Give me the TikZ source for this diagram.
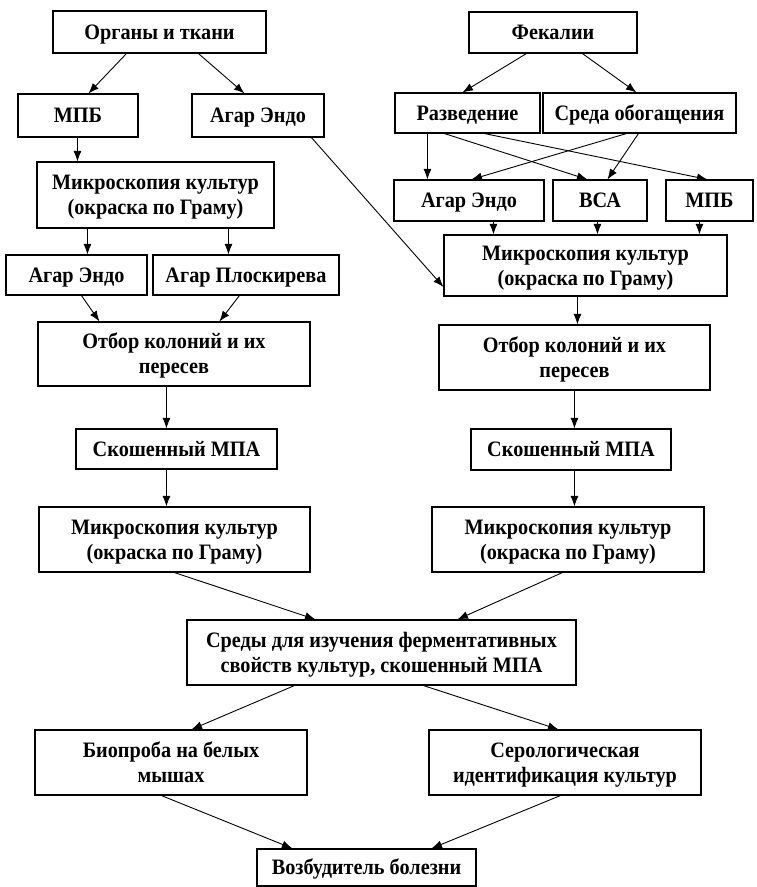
\documentclass[tikz,border=0pt]{standalone}
\usepackage{fontspec}
\setmainfont{Liberation Serif}[FakeStretch=0.92]
\usetikzlibrary{arrows.meta}
\begin{document}
\begin{tikzpicture}[x=1pt,y=-1pt,
  box/.style={draw,line width=1.1pt,align=center,inner sep=0pt,font=\fontsize{22}{25}\selectfont\bfseries},
  one/.style={text height=14.5pt,text depth=0pt},
  two/.style={text height=39.5pt,text depth=0pt},
  arr/.style={line width=0.9pt,-{Latex[length=10.5pt,width=8pt]}}]
\useasboundingbox (0,0) rectangle (756,887);
\node[box,one,minimum width=213pt,minimum height=42pt] (org) at (159.5,32) {Органы и ткани};
\node[box,one,minimum width=120pt,minimum height=43pt] (mpb1) at (78,115.5) {МПБ};
\node[box,one,minimum width=132pt,minimum height=43pt] (endo1) at (258,115.5) {Агар Эндо};
\node[box,two,minimum width=237pt,minimum height=66pt] (mic1) at (155.5,195) {Микроскопия культур\\(окраска по Граму)};
\node[box,one,minimum width=141pt,minimum height=40pt] (endo2) at (76.5,275) {Агар Эндо};
\node[box,one,minimum width=186pt,minimum height=40pt] (plosk) at (246,275) {Агар Плоскирева};
\node[box,two,minimum width=272pt,minimum height=64pt] (otb1) at (174,354) {Отбор колоний и их\\пересев};
\node[box,one,minimum width=201pt,minimum height=40pt] (skos1) at (176.5,449) {Скошенный МПА};
\node[box,two,minimum width=271pt,minimum height=65pt] (mic2) at (174.5,539.5) {Микроскопия культур\\(окраска по Граму)};
\node[box,one,minimum width=168pt,minimum height=41pt] (fek) at (553,32.5) {Фекалии};
\node[box,one,minimum width=145pt,minimum height=40pt] (razv) at (467.5,113) {Разведение};
\node[box,one,minimum width=193pt,minimum height=40pt] (sreda) at (639.5,113) {Среда обогащения};
\node[box,one,minimum width=150pt,minimum height=41pt] (endo3) at (469,200.5) {Агар Эндо};
\node[box,one,minimum width=94pt,minimum height=41pt] (bsa) at (600,200.5) {ВСА};
\node[box,one,minimum width=87pt,minimum height=41pt] (mpb2) at (709.5,200.5) {МПБ};
\node[box,two,minimum width=283pt,minimum height=61pt] (mic3) at (585.5,265.5) {Микроскопия культур\\(окраска по Граму)};
\node[box,two,minimum width=271pt,minimum height=65pt] (otb2) at (574.5,357.5) {Отбор колоний и их\\пересев};
\node[box,one,minimum width=200pt,minimum height=41pt] (skos2) at (571,449.5) {Скошенный МПА};
\node[box,two,minimum width=272pt,minimum height=65pt] (mic4) at (568,539.5) {Микроскопия культур\\(окраска по Граму)};
\node[box,two,minimum width=389pt,minimum height=65pt] (sredy) at (381.5,652.5) {Среды для изучения ферментативных\\свойств культур, скошенный МПА};
\node[box,two,minimum width=272pt,minimum height=65pt] (bio) at (171,762.5) {Биопроба на белых\\мышах};
\node[box,two,minimum width=272pt,minimum height=65pt] (sero) at (565,762.5) {Серологическая\\идентификация культур};
\node[box,one,minimum width=219pt,minimum height=37pt] (vozb) at (366.5,867.5) {Возбудитель болезни};
% arrows
\draw[arr] ([xshift=74pt]org.south west) -- ([xshift=71pt]mpb1.north west);
\draw[arr] ([xshift=146pt]org.south west) -- ([xshift=53pt]endo1.north west);
\draw[arr] ([xshift=60pt]mpb1.south west) -- ([xshift=41pt]mic1.north west);
\draw[arr] ([xshift=120pt]endo1.south west) -- ([yshift=-21.5pt]mic3.west);
\draw[arr] ([xshift=51pt]mic1.south west) -- ([xshift=82pt]endo2.north west);
\draw[arr] ([xshift=192pt]mic1.south west) -- ([xshift=76pt]plosk.north west);
\draw[arr] ([xshift=76pt]endo2.south west) -- ([xshift=62pt]otb1.north west);
\draw[arr] ([xshift=87pt]plosk.south west) -- ([xshift=182pt]otb1.north west);
\draw[arr] ([xshift=129pt]otb1.south west) -- ([xshift=91pt]skos1.north west);
\draw[arr] ([xshift=91pt]skos1.south west) -- ([xshift=128pt]mic2.north west);
\draw[arr] ([xshift=58pt]fek.south west) -- ([xshift=68pt]razv.north west);
\draw[arr] ([xshift=114pt]fek.south west) -- ([xshift=94pt]sreda.north west);
\draw[arr] ([xshift=33pt]razv.south west) -- ([xshift=34pt]endo3.north west);
\draw[arr] ([xshift=50pt]razv.south west) -- ([xshift=35pt]bsa.north west);
\draw[arr] ([xshift=90pt]razv.south west) -- ([xshift=42pt]mpb2.north west);
\draw[arr] ([xshift=84pt]sreda.south west) -- ([xshift=78pt]endo3.north west);
\draw[arr] ([xshift=96pt]sreda.south west) -- ([xshift=55pt]bsa.north west);
\draw[arr] ([xshift=100pt]endo3.south west) -- ([xshift=50pt]mic3.north west);
\draw[arr] ([xshift=45pt]bsa.south west) -- ([xshift=154pt]mic3.north west);
\draw[arr] ([xshift=34pt]mpb2.south west) -- ([xshift=256pt]mic3.north west);
\draw[arr] ([xshift=134pt]mic3.south west) -- ([xshift=139pt]otb2.north west);
\draw[arr] ([xshift=136pt]otb2.south west) -- ([xshift=104pt]skos2.north west);
\draw[arr] ([xshift=104pt]skos2.south west) -- ([xshift=143pt]mic4.north west);
\draw[arr] ([xshift=136pt]mic2.south west) -- ([xshift=129pt]sredy.north west);
\draw[arr] ([xshift=131pt]mic4.south west) -- ([xshift=271pt]sredy.north west);
\draw[arr] ([xshift=108pt]sredy.south west) -- ([xshift=157pt]bio.north west);
\draw[arr] ([xshift=237pt]sredy.south west) -- ([xshift=130pt]sero.north west);
\draw[arr] ([xshift=127pt]bio.south west) -- ([xshift=36pt]vozb.north west);
\draw[arr] ([xshift=132pt]sero.south west) -- ([xshift=175pt]vozb.north west);
\end{tikzpicture}
\end{document}
